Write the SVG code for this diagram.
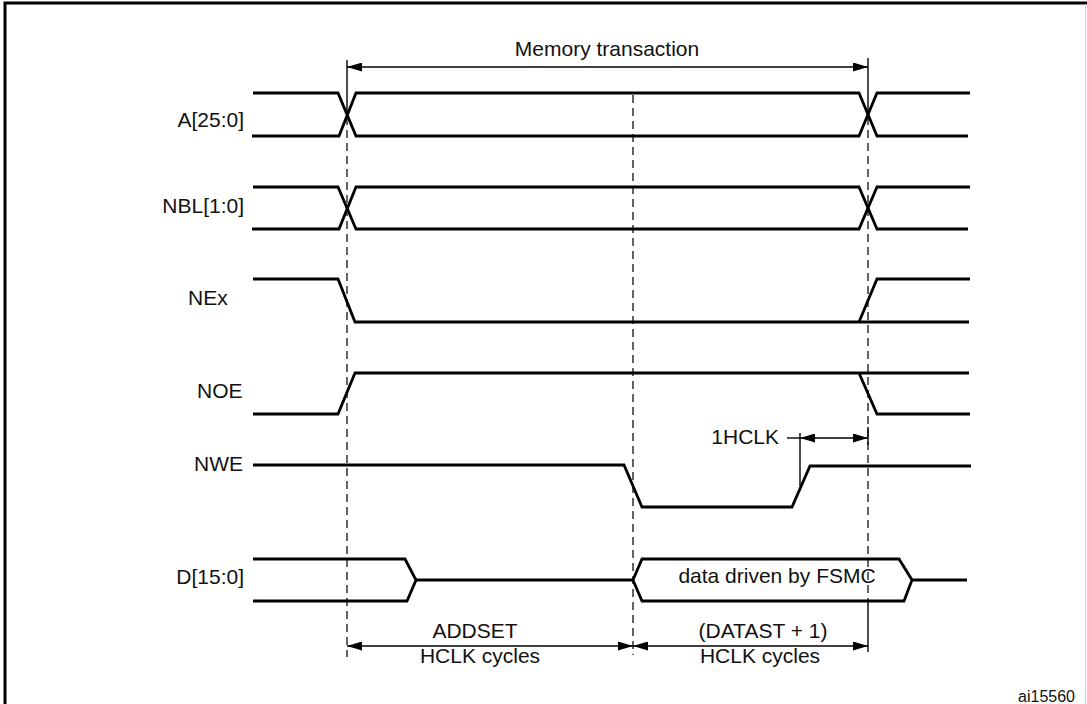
<svg xmlns="http://www.w3.org/2000/svg" width="1087" height="704" viewBox="0 0 1087 704">
<style>
  .sig { fill: none; stroke: #000; stroke-width: 2.8; stroke-linejoin: miter; }
  .lbl { font-family: "Liberation Sans", Arial, sans-serif; font-size: 21px; fill: #111; }
  .dim { fill: none; stroke: #000; stroke-width: 1.4; }
  .dash { fill: none; stroke: #222; stroke-width: 1.4; stroke-dasharray: 8 5; }
</style>
<defs>
  <marker id="arr" viewBox="0 0 15 9" refX="15" refY="4.5" markerWidth="15" markerHeight="9" markerUnits="userSpaceOnUse" orient="auto-start-reverse">
    <path d="M0,0 L15,4.5 L0,9 z" fill="#000"/>
  </marker>
</defs>
<rect width="1087" height="704" fill="#fff"/>
<g id="frame">
  <path d="M5,704 V3 H1087" fill="none" stroke="#000" stroke-width="3"/>
  <line x1="1085.5" y1="4" x2="1085.5" y2="704" stroke="#d0d0d0" stroke-width="1"/>
</g>
<g id="connectors">
  <line class="dash" x1="347" y1="117" x2="347" y2="657"/>
  <line class="dash" x1="633" y1="95" x2="633" y2="655"/>
  <line class="dash" x1="868" y1="117" x2="868" y2="601"/>
  <line class="dim" x1="347" y1="60" x2="347" y2="115"/>
  <line class="dim" x1="868" y1="58" x2="868" y2="115"/>
  <line class="dim" x1="347" y1="67" x2="868" y2="67" marker-start="url(#arr)" marker-end="url(#arr)"/>
  <line class="dim" x1="787" y1="438" x2="800" y2="438"/>
  <line class="dim" x1="800" y1="438" x2="868" y2="438" marker-start="url(#arr)" marker-end="url(#arr)"/>
  <line class="dim" x1="800" y1="433" x2="800" y2="486"/>
  <line class="dim" x1="868" y1="427" x2="868" y2="445"/>
  <line class="dim" x1="868" y1="601" x2="868" y2="652"/>
  <line class="dim" x1="347" y1="646" x2="633" y2="646" marker-start="url(#arr)" marker-end="url(#arr)"/>
  <line class="dim" x1="633" y1="646" x2="868" y2="646" marker-start="url(#arr)" marker-end="url(#arr)"/>
  <text class="lbl" x="607" y="56" text-anchor="middle">Memory transaction</text>
  <text class="lbl" x="779" y="444" text-anchor="end">1HCLK</text>
  <text class="lbl" x="475" y="638" text-anchor="middle">ADDSET</text>
  <text class="lbl" x="480" y="663" text-anchor="middle">HCLK cycles</text>
  <text class="lbl" x="763" y="638" text-anchor="middle">(DATAST + 1)</text>
  <text class="lbl" x="760" y="663" text-anchor="middle">HCLK cycles</text>
</g>
<g id="sig-A">
  <text class="lbl" x="244" y="127" text-anchor="end">A[25:0]</text>
  <path class="sig" d="M253,93 H338 L356,136 H859 L877,93 H970"/>
  <path class="sig" d="M252,136 H339 L356,93 H859 L877,136 H968"/>
</g>
<g id="sig-NBL">
  <text class="lbl" x="244" y="213" text-anchor="end">NBL[1:0]</text>
  <path class="sig" d="M253,187 H338 L356,229 H859 L877,187 H970"/>
  <path class="sig" d="M252,229 H339 L356,187 H859 L877,229 H968"/>
</g>
<g id="sig-NEx">
  <text class="lbl" x="188" y="305">NEx</text>
  <path class="sig" d="M253,279 H338 L355,322 H969"/>
  <path class="sig" d="M859,322 L877,279 H970"/>
</g>
<g id="sig-NOE">
  <text class="lbl" x="197" y="398">NOE</text>
  <path class="sig" d="M253,414 H338 L355,373 H969"/>
  <path class="sig" d="M859,373 L877,414 H970"/>
</g>
<g id="sig-NWE">
  <text class="lbl" x="243" y="471" text-anchor="end">NWE</text>
  <path class="sig" d="M253,465 H624 L642,507 H792 L810,466 H971"/>
</g>
<g id="sig-D">
  <text class="lbl" x="244" y="584" text-anchor="end">D[15:0]</text>
  <path class="sig" d="M253,559 H405 L416,580 L407,601 H253"/>
  <path class="sig" d="M416,580 H633"/>
  <path class="sig" d="M633,580 L642,559 H899 L912,580 L904,601 H642 Z"/>
  <path class="sig" d="M912,580 H967"/>
  <text class="lbl" x="777" y="583" text-anchor="middle">data driven by FSMC</text>
</g>
<text x="1075" y="702" text-anchor="end" font-family="Liberation Sans, Arial, sans-serif" font-size="16" fill="#111">ai15560</text>
</svg>
